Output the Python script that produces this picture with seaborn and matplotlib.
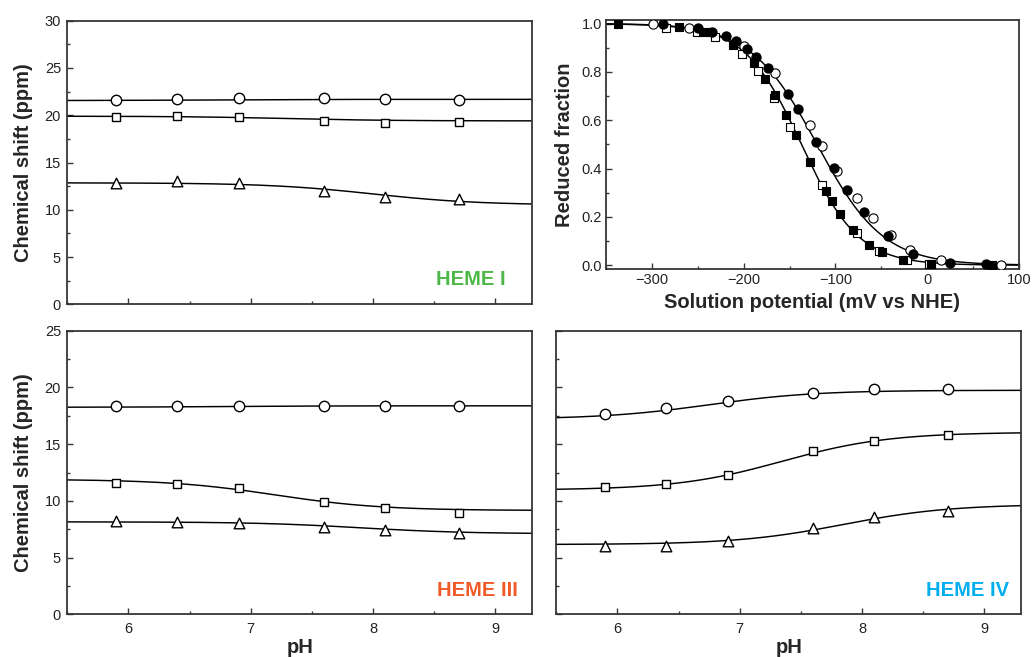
import numpy as np
import pandas as pd
import matplotlib
matplotlib.use("Agg")
import matplotlib.pyplot as plt
import seaborn as sns
from matplotlib.ticker import MultipleLocator, FormatStrFormatter

# ---------------------------------------------------------------- data
ph = [5.9, 6.4, 6.9, 7.6, 8.1, 8.7]

heme1_circle = [21.6, 21.75, 21.85, 21.8, 21.75, 21.65]
heme1_square = [19.8, 19.9, 19.8, 19.35, 19.2, 19.3]
heme1_triangle = [12.8, 13.05, 12.8, 12.0, 11.3, 11.1]

heme3_circle = [18.4, 18.4, 18.4, 18.4, 18.4, 18.4]
heme3_square = [11.55, 11.5, 11.1, 9.9, 9.35, 8.95]
heme3_triangle = [8.2, 8.15, 8.05, 7.7, 7.45, 7.2]

heme4_circle = [17.7, 18.15, 18.8, 19.55, 19.85, 19.85]
heme4_square = [11.2, 11.45, 12.3, 14.4, 15.3, 15.8]
heme4_triangle = [6.05, 6.05, 6.45, 7.65, 8.55, 9.15]

# fitted titration curves: (acidic limit, alkaline limit, pKa)
heme1_fit = [(21.55, 21.68, 6.6), (19.9, 19.4, 7.3), (12.85, 10.5, 8.0)]
heme3_fit = [(18.25, 18.38, 6.8), (11.9, 9.15, 7.2), (8.15, 7.1, 7.9)]
heme4_fit = [(17.2, 19.75, 6.75), (10.95, 16.05, 7.35), (6.15, 9.7, 7.85)]

# redox titration, solution potential (mV) and reduced fraction
fsq_e = [-337, -270, -244, -237, -211, -189, -177, -166, -154, -142.5, -127.5,
         -110, -104, -95, -81, -63, -49, -26, 4, 70]
fsq_f = [1.0, 0.984, 0.964, 0.966, 0.911, 0.837, 0.77, 0.705, 0.622, 0.537, 0.428,
         0.307, 0.265, 0.213, 0.147, 0.085, 0.053, 0.021, 0.006, 0.001]

osq_e = [-284, -251, -231, -202, -184, -167, -149.5, -114.5, -77, -52.5, -22, 1.5]
osq_f = [0.981, 0.965, 0.946, 0.873, 0.804, 0.693, 0.573, 0.33, 0.132, 0.06, 0.021, 0.007]

fci_e = [-288, -250, -234, -219, -208, -196, -186, -173, -152, -141, -121, -102,
         -87, -69, -43, -16, 25, 64]
fci_f = [0.998, 0.981, 0.967, 0.948, 0.928, 0.897, 0.862, 0.817, 0.707, 0.646, 0.512,
         0.403, 0.31, 0.22, 0.12, 0.048, 0.011, 0.003]

oci_e = [-299, -259, -200, -166, -128, -115, -98, -77, -59, -40, -19, 15, 80]
oci_f = [0.997, 0.983, 0.909, 0.795, 0.579, 0.493, 0.39, 0.278, 0.197, 0.124, 0.063,
         0.021, 0.001]

# fitted redox curves: (midpoint potential mV, width mV)
square_redox_fit = (-137, 31)
circle_redox_fit = (-120, 36)

heme_labels = ["HEME I", "HEME III", "HEME IV"]
heme_colors = ["#4db848", "#f15a29", "#00aeef"]

# ---------------------------------------------------------------- style
sns.set_style("ticks")
plt.rcParams["font.family"] = ["Liberation Sans", "DejaVu Sans"]
plt.rcParams["axes.unicode_minus"] = True

INK = "#363636"


def titration(x, acid, alk, pka):
    return alk + (acid - alk) / (1.0 + 10.0 ** (x - pka))


def reduced(e, e0, w):
    return 1.0 / (1.0 + np.exp((e - e0) / w))


def style_axes(ax, major_len=4.3, minor_len=2.4, xpad=5.5, ypad=4.5):
    for sp in ax.spines.values():
        sp.set_visible(True)
        sp.set_linewidth(1.3)
        sp.set_color(INK)
    ax.tick_params(which="both", direction="in", top=False, right=False,
                   color=INK, width=1.0, labelsize=10.5, labelcolor="#222222")
    ax.tick_params(which="major", length=major_len)
    ax.tick_params(which="minor", length=minor_len)
    ax.tick_params(axis="x", which="both", pad=xpad)
    ax.tick_params(axis="y", which="both", pad=ypad)


fig = plt.figure(figsize=(10.32, 6.57), dpi=100)
W, H = 1032, 657


def place(left, right, top, bottom):
    return fig.add_axes([left / W, (H - bottom) / H, (right - left) / W, (bottom - top) / H])


ax_tl = place(67.3, 532, 20.7, 304.3)
ax_tr = place(605.7, 1019.3, 20, 269.3)
ax_bl = place(67.3, 532, 330.7, 614.3)
ax_br = place(556.3, 1021, 330.7, 614.3)

ph_grid = np.linspace(5.5, 9.3, 300)
marker_specs = [("o", 56), ("s", 34), ("^", 58)]

panels = [
    (ax_tl, [heme1_circle, heme1_square, heme1_triangle], heme1_fit, (0, 30), heme_labels[0], heme_colors[0], (0.943, 0.068)),
    (ax_bl, [heme3_circle, heme3_square, heme3_triangle], heme3_fit, (0, 25), heme_labels[1], heme_colors[1], (0.969, 0.066)),
    (ax_br, [heme4_circle, heme4_square, heme4_triangle], heme4_fit, (0, 25), heme_labels[2], heme_colors[2], (0.974, 0.065)),
]

for ax, series, fits, ylim, label, color, pos in panels:
    for vals, fit, (mk, size) in zip(series, fits, marker_specs):
        curve = pd.DataFrame({"pH": ph_grid, "shift": titration(ph_grid, *fit)})
        sns.lineplot(data=curve, x="pH", y="shift", ax=ax, color="black",
                     linewidth=1.05, zorder=2)
        pts = pd.DataFrame({"pH": ph, "shift": vals})
        sns.scatterplot(data=pts, x="pH", y="shift", ax=ax, marker=mk, s=size,
                        color="white", edgecolor="black", linewidth=1.0, zorder=3)
    ax.set_xlim(5.5, 9.3)
    ax.set_ylim(*ylim)
    ax.xaxis.set_major_locator(MultipleLocator(1))
    ax.xaxis.set_minor_locator(MultipleLocator(0.5))
    ax.yaxis.set_major_locator(MultipleLocator(5))
    ax.yaxis.set_minor_locator(MultipleLocator(2.5))
    style_axes(ax)
    ax.text(pos[0], pos[1], label, transform=ax.transAxes, ha="right",
            va="baseline", fontsize=14.5, fontweight="bold", color=color)
    ax.set_xlabel("")
    ax.set_ylabel("")

ax_tl.tick_params(labelbottom=False)
ax_br.tick_params(labelleft=False)

for ax in (ax_tl, ax_bl):
    ax.set_ylabel("Chemical shift (ppm)", fontsize=14.5, fontweight="bold")
    ax.yaxis.set_label_coords(-0.074, 0.5)
for ax in (ax_bl, ax_br):
    ax.set_xlabel("pH", fontsize=14.5, fontweight="bold")
    ax.xaxis.set_label_coords(0.5, -0.085)

# redox titration panel
e_grid = np.linspace(-350, 100, 400)
for fit in (square_redox_fit, circle_redox_fit):
    curve = pd.DataFrame({"E": e_grid, "f": reduced(e_grid, *fit)})
    sns.lineplot(data=curve, x="E", y="f", ax=ax_tr, color="black",
                 linewidth=1.05, zorder=2)

redox_sets = [
    (oci_e, oci_f, "o", 44, "white"),
    (osq_e, osq_f, "s", 30, "white"),
    (fci_e, fci_f, "o", 44, "black"),
    (fsq_e, fsq_f, "s", 32, "black"),
]
for es, fs, mk, size, face in redox_sets:
    pts = pd.DataFrame({"E": es, "f": fs})
    sns.scatterplot(data=pts, x="E", y="f", ax=ax_tr, marker=mk, s=size,
                    color=face, edgecolor="black", linewidth=0.8, zorder=3)

ax_tr.set_xlim(-350, 100)
ax_tr.set_ylim(-0.017, 1.015)
ax_tr.xaxis.set_major_locator(MultipleLocator(100))
ax_tr.xaxis.set_minor_locator(MultipleLocator(50))
ax_tr.yaxis.set_major_locator(MultipleLocator(0.2))
ax_tr.yaxis.set_minor_locator(MultipleLocator(0.1))
ax_tr.yaxis.set_major_formatter(FormatStrFormatter("%.1f"))
style_axes(ax_tr, major_len=4.0, minor_len=2.4, xpad=3.0, ypad=2.5)
ax_tr.set_xlabel("Solution potential (mV vs NHE)", fontsize=14.5, fontweight="bold")
ax_tr.set_ylabel("Reduced fraction", fontsize=14.5, fontweight="bold")
ax_tr.xaxis.set_label_coords(0.5, -0.096)
ax_tr.yaxis.set_label_coords(-0.077, 0.5)

fig.savefig("out.png", dpi=100)
